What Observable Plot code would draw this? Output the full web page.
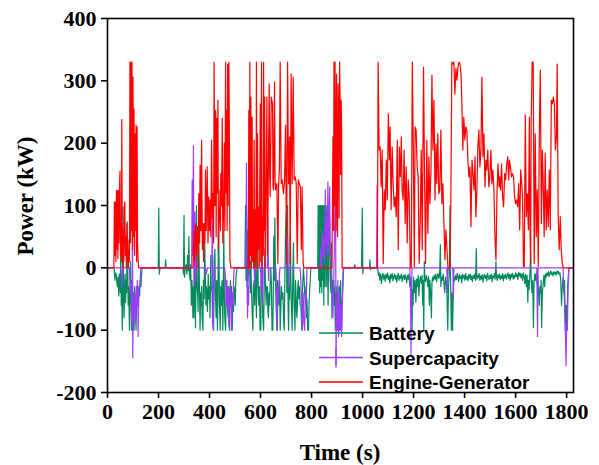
<!DOCTYPE html>
<html><head><meta charset="utf-8">
<script src="https://cdn.jsdelivr.net/npm/d3@7"></script>
<script src="https://cdn.jsdelivr.net/npm/@observablehq/plot@0.6"></script>
<style>body{margin:0;background:#fff}#chart{position:relative;width:599px;height:465px}</style>
</head><body><div id="chart"></div>
<script>
const xTicks = [0,200,400,600,800,1000,1200,1400,1600,1800];
const yTicks = [-200,-100,0,100,200,300,400];
const seriesNames = ["Battery","Supercapacity","Engine-Generator"];
const seriesColors = ["#008a5e","#9d3bff","#ff0000"];
const xTitle = "Time (s)";
const yTitle = "Power (kW)";

const battery = [
[0,0],[25,0],[27,-5],[29,-20],[31,-8],[34,-10],[37,-25],[39,-30],[41,-15],[44,-45],[46,-10],[48,-15],[50,-40],[52,30],[54,-60],[56,-20],[58,-100],[60,-30],[61,98],[63,-20],[65,-80],[67,-40],[69,-10],[71,-56],[73,-20],[75,-40],[77,74],[79,20],[81,-60],[83,-30],[86,-100],[88,-50],[90,10],[92,-30],[94,-100],[96,-20],[98,-60],[100,-100],[102,-40],[104,-100],[106,-30],[108,-40],[110,-60],[112,-100],[114,-50],[116,-30],[118,-60],[120,-40],[123,-30],[126,-45],[128,-20],[131,-30],[134,-10],[136,0],
[196,0],[199,0],[201,96],[203,-10],[206,0],[226,0],[228,13],[230,0],[296,0],[298,-10],[300,84],[302,-15],[304,0],
[308,5],[311,-10],[314,20],[317,-5],[319,50],[321,-10],[324,-20],[326,5],[329,-60],[331,-20],[333,-40],[335,-80],[337,-30],[339,-80],[341,-10],[343,10],[345,-96],[347,-20],[349,100],[351,-30],[353,-40],[355,-70],[358,60],[360,-20],[363,-100],[365,-40],[367,-60],[369,-30],[371,-80],[374,-100],[376,-20],[379,-50],[381,40],[384,-20],[386,-60],[388,-30],[390,-40],[392,-70],[395,-10],[397,-50],[400,-30],[402,-80],[405,20],[407,-30],[410,-40],[412,-90],[414,-30],[416,-100],[418,10],[421,30],[423,-40],[426,-80],[428,-20],[431,-100],[433,-50],[435,100],[437,20],[439,-60],[442,-100],[444,-30],[447,-60],[449,-20],[452,-100],[454,-40],[456,60],[458,-40],[460,-80],[463,-100],[465,-50],[468,-30],[470,-60],[473,-80],[475,-30],[478,-100],[480,-50],[482,-20],[484,-60],[486,-30],[489,-100],[491,-60],[494,-70],[496,-30],[499,-40],[501,-60],[503,-20],[505,-10],[508,0],
[536,0],[539,0],[541,100],[543,-20],[545,90],[547,-30],[549,60],[551,-20],[553,100],[555,-10],[557,20],[560,-40],[562,10],[565,-40],[567,-70],[570,-100],[572,-30],[575,-20],[577,-60],[580,50],[582,-40],[584,-80],[586,-20],[588,60],[591,-30],[593,-60],[596,-30],[598,-100],[601,-100],[603,-20],[605,50],[607,-40],[609,-80],[612,-100],[614,-40],[617,30],[619,-20],[622,-60],[624,-30],[627,-30],[629,-70],[631,-80],[633,-40],[636,-60],[638,-20],[640,0],[643,-30],[645,-100],[648,-100],[650,-40],[652,50],[654,-20],[656,80],[659,-30],[661,-60],[664,-100],[667,-20],[669,-40],[672,-60],[675,-20],[677,-100],[680,-60],[682,-30],[685,-50],[688,-40],[690,-80],[693,-100],[695,-30],[698,60],[701,90],[703,-40],[706,100],[708,-60],[710,-100],[712,-30],[714,-50],[717,60],[719,-20],[721,-60],[724,-100],[726,-30],[729,40],[731,-50],[735,-100],[737,-20],[739,-40],[741,-70],[743,-80],[746,-30],[748,-20],[750,-50],[753,-30],[755,-60],[758,-60],[760,-80],[762,-100],[764,-40],[766,-20],[768,0],[771,-20],[773,-40],[776,-60],[778,-30],[780,-80],[782,-50],[785,-100],[788,-100],[790,-60],[792,-40],[795,-20],[797,0],
[822,0],[824,0],[826,100],[828,-20],[830,100],[832,-40],[834,100],[836,-30],[838,100],[840,-40],[842,100],[844,-20],[846,100],[848,-60],[850,100],[852,-30],[854,100],[856,80],[858,-30],[860,100],[862,20],[865,-60],[868,60],[871,80],[873,-20],[876,-40],[878,40],[880,-80],[882,-20],[884,-50],[887,-20],[889,-60],[891,-30],[893,-100],[895,-40],[897,-60],[899,-30],[901,-100],[903,-50],[906,-60],[908,-30],[910,-100],[912,-40],[914,-20],[916,-70],[918,-100],[920,-60],[922,-40],[924,-20],[926,0],
[966,0],[970,5],[972,0],[996,0],[999,96],[1001,-9],[1003,0],[1027,0],[1029,13],[1031,-3],[1033,0],
[1055,0],[1060,-3],[1062,-12],[1065,-8],[1068,-20],[1071,-10],[1074,-25],[1077,-14],[1080,-9],[1083,-18],[1086,-12],[1089,-22],[1092,-10],[1095,-16],[1098,-8],[1101,-19],[1104,-13],[1107,-24],[1110,-11],[1113,-17],[1116,-9],[1119,-21],[1122,-14],[1125,-10],[1128,-18],[1131,-12],[1134,-23],[1137,-15],[1140,-9],[1143,-20],[1146,-13],[1149,-17],[1152,-10],[1155,-22],[1158,-14],[1161,-12],[1164,-19],[1167,-11],[1170,-16],[1173,-24],[1176,-12],[1179,-18],[1182,-10],[1185,-30],[1188,-15],[1190,-60],[1192,-20],[1194,-100],[1196,-35],[1198,-60],[1200,-15],[1203,-40],[1206,-20],[1209,-55],[1212,-18],[1215,-30],[1218,-12],[1221,-45],[1224,-20],[1227,-14],[1230,-25],[1233,-12],[1236,-60],[1238,-20],[1240,-100],[1242,10],[1244,-15],[1247,-22],[1250,-12],[1253,-18],[1256,-30],[1259,-14],[1262,-60],[1264,-20],[1267,-40],[1270,-80],[1272,-25],[1275,-15],[1278,-20],[1281,-12],[1284,-18],[1287,-10],[1290,-22],[1293,-14],[1296,-9],[1299,-17],[1302,-12],[1305,37],[1307,-30],[1310,-15],[1313,-20],[1316,-10],[1319,-25],[1322,-40],[1325,-15],[1328,-20],[1331,-45],[1334,-100],[1337,-30],[1340,-10],[1343,100],[1345,-20],[1348,-100],[1350,-40],[1353,-100],[1356,-30],[1359,-15],[1362,-20],
[1365,-12],[1368,-19],[1371,-9],[1374,-15],[1377,-22],[1380,-11],[1383,-17],[1386,-13],[1389,-24],[1392,-10],[1395,-16],[1398,-12],[1401,-20],[1404,-9],[1407,-18],[1410,-14],[1413,-21],[1416,-11],[1419,-16],[1422,-10],[1425,-19],[1428,-13],[1431,-22],[1434,-12],[1437,-17],[1440,-10],[1443,-20],[1446,31],[1448,-18],[1451,-12],[1454,-16],[1457,-9],[1460,-20],[1463,-13],[1466,-18],[1469,-11],[1472,-23],[1475,-14],[1478,-10],[1481,-17],[1484,-12],[1487,-21],[1490,-9],[1493,-15],[1496,-19],[1499,-12],[1502,-17],[1505,-10],[1508,-22],[1511,-13],[1514,-16],[1517,-9],[1520,-18],[1523,10],[1525,-14],[1528,-20],[1531,-11],[1534,-16],[1537,-10],[1540,-19],[1543,-13],[1546,-17],[1549,-9],[1552,-21],[1555,-12],[1558,-16],[1561,-10],[1564,-18],[1567,-13],[1570,-8],[1573,-17],[1576,-11],[1579,-20],[1582,-10],[1585,-15],[1588,-9],[1591,-18],[1594,-12],[1597,-16],[1600,-8],[1603,-14],[1606,-10],[1609,-19],[1612,-7],[1615,-13],[1618,-9],[1621,-16],[1624,-10],[1627,-20],[1630,-8],[1633,-14],[1636,-25],[1639,-10],[1642,-30],[1645,-12],[1648,-55],[1650,-20],[1653,-35],[1656,-10],[1659,23],[1661,-15],[1664,-40],[1667,-20],[1670,-96],[1672,-30],[1675,-10],[1678,-20],[1681,-8],[1684,-25],[1687,-12],[1690,-40],[1693,-60],[1695,-30],[1698,-40],[1700,-20],[1702,-96],[1705,-40],[1708,-25],[1711,-12],[1714,-30],[1717,-10],[1720,-15],[1723,-8],[1726,-12],[1729,-6],[1732,-14],[1735,-9],[1738,-5],[1741,-11],[1744,-8],[1747,-13],[1750,-6],[1753,-10],[1756,-7],[1759,-12],[1762,-5],[1765,-9],[1768,-6],[1771,-11],[1774,-8],[1777,-20],[1780,-60],[1783,-30],[1786,-15],[1789,-40],[1792,-20],[1795,-100],[1798,-60],[1801,-100],[1804,-30],[1807,-10],[1810,0],[1827,0]
];

const supercap = [
[0,0],[52,0],[54,-10],[57,-30],[59,-5],[62,0],[86,0],[88,-20],[90,-40],[92,-25],[94,-60],[95,-88],[97,-40],[98,165],[99,-144],[101,-60],[103,-80],[105,-40],[107,-50],[109,-90],[111,-70],[113,-30],[115,-60],[117,-20],[119,-40],[120,-110],[122,-60],[124,-30],[127,-30],[129,-10],[131,0],
[330,0],[332,141],[334,20],[337,196],[339,-30],[341,60],[343,90],[345,-20],[347,10],[350,0],[384,0],[387,-10],[392,0],[409,0],[411,100],[413,-94],[415,-100],[417,-30],[419,0],[460,0],[463,-20],[465,-60],[468,-20],[471,-67],[473,-30],[476,-94],[478,-40],[481,-30],[484,-60],[486,-100],[489,-40],[492,-60],[494,-20],[497,0],
[540,0],[543,30],[545,168],[547,-20],[549,-80],[551,-30],[553,-60],[555,0],[575,0],[577,-30],[579,0],[600,0],[603,-40],[605,30],[608,-60],[610,0],[627,0],[629,82],[631,-20],[633,0],[660,0],[663,-40],[666,-100],[668,-30],[670,-56],[673,-20],[676,0],[700,0],[703,43],[706,50],[709,-30],[711,0],[755,0],[758,-20],[761,-60],[764,-100],[767,-40],[770,-88],[773,-100],[776,-40],[779,-60],[782,0],
[834,0],[836,30],[839,0],[842,60],[845,20],[848,50],[851,10],[854,125],[856,40],[859,80],[861,20],[864,138],[866,30],[869,80],[871,130],[873,20],[876,30],[880,-40],[884,-80],[887,-20],[890,50],[894,178],[896,-155],[898,-60],[900,-100],[903,-20],[906,-110],[909,-40],[912,-100],[915,-60],[918,-110],[921,-40],[924,0],
[1055,0],[1057,133],[1059,0],[1185,0],[1188,-40],[1190,-140],[1192,-30],[1194,0],[1330,0],[1333,-40],[1335,0],[1354,0],[1356,-50],[1358,0],[1683,0],[1686,-110],[1688,0],[1786,0],[1789,-30],[1792,-60],[1795,-100],[1798,-157],[1800,-90],[1803,-100],[1806,-30],[1809,0],[1827,0]
];

const engine = [
[0,0],[25,0],[27,106],[29,20],[31,105],[33,10],[35,124],[37,30],[39,124],[41,15],[43,124],[45,40],[47,124],[49,155],[51,20],[53,71],[55,10],[56,238],[58,29],[60,0],[62,61],[64,10],[66,98],[68,106],[70,20],[72,50],[74,0],[76,71],[78,10],[80,45],[82,0],[84,29],[86,10],[88,330],[90,40],[92,330],[94,60],[96,330],[98,30],[100,306],[102,50],[104,255],[106,20],[108,215],[110,60],[112,229],[114,10],[116,226],[118,40],[120,13],[122,0],
[335,0],[339,58],[341,10],[345,71],[348,20],[352,66],[355,0],[358,119],[361,40],[363,165],[366,60],[369,205],[372,30],[374,71],[377,10],[379,71],[382,40],[384,157],[387,60],[391,162],[394,40],[397,114],[400,60],[403,109],[405,50],[408,205],[411,80],[413,119],[416,40],[418,330],[421,100],[424,253],[426,50],[428,240],[430,120],[433,269],[435,30],[437,71],[439,80],[441,125],[443,60],[444,151],[447,100],[450,240],[452,40],[454,71],[456,120],[458,200],[460,60],[463,330],[465,120],[467,253],[469,60],[471,327],[473,100],[476,330],[478,200],[480,13],[484,0],
[552,0],[554,253],[556,0],[558,330],[560,20],[562,274],[564,0],[567,242],[569,10],[571,93],[573,0],[575,205],[577,0],[580,93],[582,10],[584,330],[586,0],[588,215],[590,30],[593,98],[595,0],[599,263],[601,10],[604,330],[606,0],[609,82],[611,20],[612,330],[614,60],[616,274],[618,0],[620,61],[622,140],[625,274],[627,20],[630,125],[634,295],[636,150],[638,114],[642,274],[647,263],[649,130],[651,125],[655,298],[657,140],[659,125],[664,135],[668,7],[671,135],[674,160],[677,330],[681,135],[685,141],[690,119],[694,138],[698,229],[702,7],[706,330],[710,135],[714,210],[716,7],[720,311],[724,135],[728,306],[732,141],[736,146],[740,135],[744,7],[748,141],[752,135],[756,130],[760,29],[763,130],[767,7],[770,0],
[880,0],[884,210],[886,60],[888,330],[890,100],[892,330],[894,189],[896,60],[898,311],[900,119],[902,50],[904,295],[906,242],[908,80],[910,330],[912,269],[914,150],[916,269],[918,226],[920,0],
[1058,0],[1061,330],[1065,189],[1069,194],[1073,130],[1077,189],[1081,7],[1085,125],[1089,93],[1093,173],[1097,109],[1101,247],[1105,173],[1108,226],[1112,93],[1116,194],[1120,135],[1124,98],[1128,114],[1132,82],[1136,205],[1140,29],[1144,194],[1148,146],[1152,210],[1155,125],[1159,109],[1163,189],[1167,71],[1171,162],[1175,40],[1179,141],[1183,114],[1187,0],[1191,0],[1195,330],[1199,189],[1203,2],[1206,226],[1210,221],[1214,162],[1218,146],[1222,7],[1226,71],[1230,189],[1234,29],[1239,322],[1243,146],[1247,7],[1252,205],[1256,55],[1260,178],[1264,103],[1268,151],[1272,309],[1276,189],[1280,269],[1284,109],[1288,199],[1291,135],[1295,215],[1299,119],[1303,125],[1307,221],[1311,103],[1315,135],[1319,71],[1323,13],[1327,61],[1331,29],[1335,0],[1342,0],[1346,98],[1350,330],[1354,327],[1358,330],[1362,279],[1366,320],[1370,301],[1374,322],[1378,330],[1382,327],[1386,311],[1390,253],[1393,189],[1397,242],[1401,205],[1405,226],[1409,221],[1413,173],[1417,146],[1421,162],[1425,66],[1429,173],[1433,151],[1437,125],[1441,178],[1444,82],[1448,119],[1452,194],[1456,221],[1460,162],[1464,189],[1468,306],[1472,178],[1476,215],[1480,130],[1484,173],[1487,157],[1491,189],[1495,130],[1499,146],[1503,189],[1507,135],[1511,157],[1515,125],[1519,50],[1523,13],[1527,119],[1531,167],[1535,130],[1537,146],[1541,125],[1545,167],[1549,114],[1553,98],[1557,151],[1561,141],[1565,167],[1569,178],[1573,141],[1576,173],[1580,162],[1584,146],[1588,151],[1592,146],[1596,114],[1600,103],[1604,109],[1608,98],[1612,135],[1616,61],[1620,157],[1624,135],[1627,114],[1631,2],[1634,2],[1638,245],[1642,82],[1646,119],[1650,61],[1654,242],[1656,71],[1659,7],[1661,231],[1665,330],[1669,330],[1673,7],[1677,215],[1681,50],[1685,125],[1689,2],[1693,215],[1697,317],[1701,71],[1705,189],[1708,141],[1712,50],[1716,184],[1720,61],[1724,125],[1728,66],[1732,157],[1736,61],[1740,269],[1744,263],[1748,274],[1752,263],[1756,189],[1760,210],[1763,327],[1767,82],[1771,29],[1775,82],[1779,29],[1783,7],[1787,0],[1827,0]
];

const rows = [];
[battery, supercap, engine].forEach((arr, i) => arr.forEach(([t, v]) => rows.push({t, v, s: seriesNames[i]})));

const fmt = d => String(d);
const plot = Plot.plot({
  width: 599, height: 465,
  marginLeft: 107, marginRight: 26, marginTop: 18, marginBottom: 73,
  x: {domain: [0, 1827]},
  y: {domain: [-200, 400]},
  color: {domain: seriesNames, range: seriesColors},
  style: {fontFamily: "'Liberation Serif', 'Times New Roman', serif", fontSize: "22px", fontWeight: "bold", color: "#000", background: "#fff"},
  marks: [
    Plot.line(rows, {x: "t", y: "v", z: "s", stroke: "s", strokeWidth: 1.2}),
    Plot.frame({stroke: "#000", strokeWidth: 1.6}),
    Plot.axisX({ticks: xTicks, tickSize: 6, tickPadding: 5, tickFormat: fmt, label: null, strokeWidth: 1.6, fontSize: 22, fontWeight: "bold"}),
    Plot.axisY({ticks: yTicks, tickSize: 6, tickPadding: 5, tickFormat: fmt, label: null, strokeWidth: 1.6, fontSize: 22, fontWeight: "bold"})
  ]
});
document.getElementById("chart").appendChild(plot);

const svg = d3.select(plot);
const xs = plot.scale("x");
const xr = xs.range;
const cx = (xr[0] + xr[1]) / 2;
svg.append("text").attr("x", cx).attr("y", 460).attr("text-anchor", "middle")
  .style("font-family", "'Liberation Serif', serif").style("font-size", "23px").style("font-weight", "bold").text(xTitle);
svg.append("text").attr("transform", `translate(33,${196}) rotate(-90)`).attr("text-anchor", "middle")
  .style("font-family", "'Liberation Serif', serif").style("font-size", "23px").style("font-weight", "bold").text(yTitle);

const lg = svg.append("g").attr("text-anchor", "start").style("font-family", "'Liberation Sans', Arial, sans-serif").style("font-size", "19px").style("font-weight", "bold");
seriesNames.forEach((name, i) => {
  const yy = 333 + i * 24.5;
  lg.append("line").attr("x1", 319).attr("x2", 363).attr("y1", yy).attr("y2", yy).attr("stroke", seriesColors[i]).attr("stroke-width", 1.4);
  if (i === 1) lg.append("line").attr("x1", 336).attr("x2", 336).attr("y1", yy - 10).attr("y2", yy + 10).attr("stroke", seriesColors[i]).attr("stroke-width", 1.4);
  lg.append("text").attr("x", 369).attr("y", yy + 7).attr("text-anchor", "start").attr("fill", "#000").text(name);
});
</script></body></html>
